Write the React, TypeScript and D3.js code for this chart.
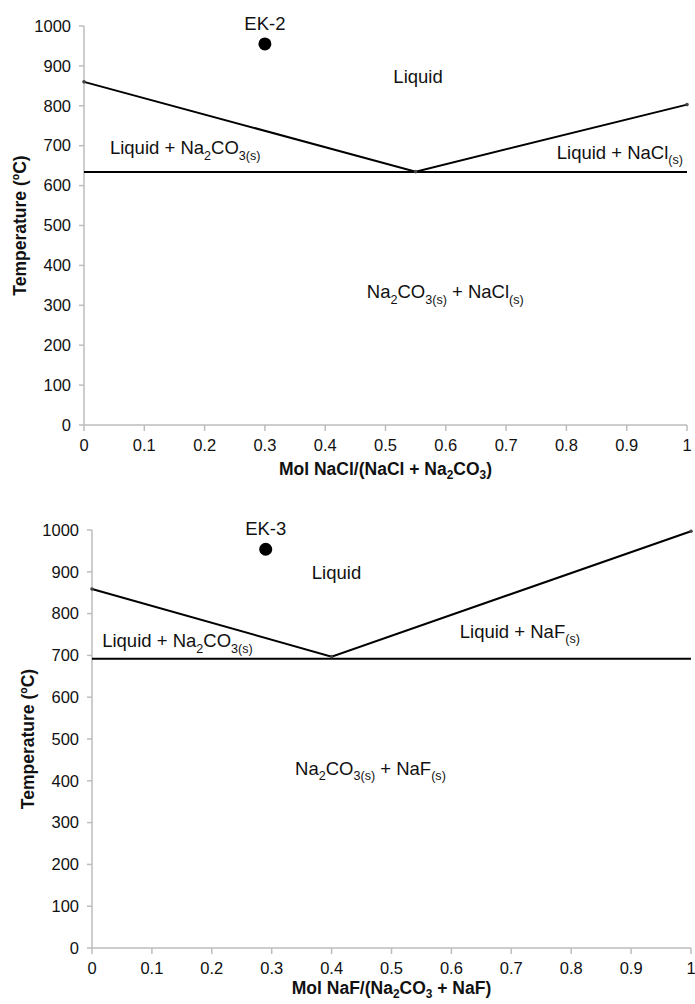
import { useEffect, useRef } from "react";
import * as d3 from "d3";

// shared axis ticks
const xTicks = [0, 0.1, 0.2, 0.3, 0.4, 0.5, 0.6, 0.7, 0.8, 0.9, 1];
const tempTicks = [0, 100, 200, 300, 400, 500, 600, 700, 800, 900, 1000];

// Na2CO3 - NaCl system
const naclLiquidusX = [0, 0.55, 1];
const naclLiquidusT = [860, 635, 803];
const naclEutecticT = 634;
const naclSample = { name: "EK-2", x: 0.3, t: 955 };
const naclRegions = [
  "Liquid",
  "Liquid + Na_{2}CO_{3(s)}",
  "Liquid + NaCl_{(s)}",
  "Na_{2}CO_{3(s)} + NaCl_{(s)}",
];
const naclXTitle = "Mol NaCl/(NaCl + Na_{2}CO_{3})";

// Na2CO3 - NaF system
const nafLiquidusX = [0, 0.4, 1];
const nafLiquidusT = [859, 697, 997];
const nafEutecticT = 692;
const nafSample = { name: "EK-3", x: 0.29, t: 954 };
const nafRegions = [
  "Liquid",
  "Liquid + Na_{2}CO_{3(s)}",
  "Liquid + NaF_{(s)}",
  "Na_{2}CO_{3(s)} + NaF_{(s)}",
];
const nafXTitle = "Mol NaF/(Na_{2}CO_{3} + NaF)";

const yTitle = "Temperature (ºC)";
const FONT = "'Liberation Sans', Arial, Helvetica, sans-serif";

// where each region label sits (data coords: x fraction, temperature at baseline)
const naclRegionPos = [
  { x: 0.554, t: 857, anchor: "middle" },
  { x: 0.043, t: 679, anchor: "start" },
  { x: 0.784, t: 667, anchor: "start" },
  { x: 0.469, t: 318, anchor: "start" },
];
const nafRegionPos = [
  { x: 0.367, t: 883, anchor: "start" },
  { x: 0.017, t: 720, anchor: "start" },
  { x: 0.614, t: 742, anchor: "start" },
  { x: 0.339, t: 414, anchor: "start" },
];

// tiny markup parser: "Na_{2}CO_{3}" -> tspans with subscripts
function richText(sel: any, label: string, size: number, shift = 0.3) {
  const parts = label.split(/(_\{[^}]*\})/).filter(Boolean);
  let shifted = false;
  parts.forEach((p) => {
    if (p.startsWith("_{")) {
      sel
        .append("tspan")
        .attr("font-size", size * 0.68)
        .attr("dy", shifted ? 0 : size * shift)
        .text(p.slice(2, -1));
      shifted = true;
    } else {
      sel
        .append("tspan")
        .attr("dy", shifted ? -size * shift : 0)
        .text(p);
      shifted = false;
    }
  });
}

function drawPhaseChart(g: any, cfg: any) {
  const { box, lx, lt, eut, sample, regions, regionPos, xTitle, titleGap } = cfg;
  const x = d3.scaleLinear().domain([0, 1]).range([box.left, box.right]);
  const y = d3.scaleLinear().domain([0, 1000]).range([box.bottom, box.top]);

  // axes
  const axisColor = "#bdbdbd";
  g.append("line")
    .attr("x1", box.left).attr("x2", box.left)
    .attr("y1", y(1000)).attr("y2", y(0))
    .attr("stroke", axisColor).attr("stroke-width", 1.5);
  g.append("line")
    .attr("x1", x(0)).attr("x2", x(1))
    .attr("y1", box.bottom).attr("y2", box.bottom)
    .attr("stroke", axisColor).attr("stroke-width", 1.5);

  const yt = g.append("g");
  tempTicks.forEach((t) => {
    yt.append("line")
      .attr("x1", box.left - 5).attr("x2", box.left)
      .attr("y1", y(t)).attr("y2", y(t))
      .attr("stroke", axisColor).attr("stroke-width", 1.5);
    yt.append("text")
      .attr("x", box.left - 13).attr("y", y(t))
      .attr("text-anchor", "end").attr("dy", "0.35em")
      .attr("font-size", 16.5).attr("font-family", FONT).attr("fill", "#111")
      .text(d3.format("d")(t));
  });

  const xt = g.append("g");
  xTicks.forEach((v) => {
    xt.append("line")
      .attr("x1", x(v)).attr("x2", x(v))
      .attr("y1", box.bottom).attr("y2", box.bottom + 6)
      .attr("stroke", axisColor).attr("stroke-width", 1.5);
    xt.append("text")
      .attr("x", x(v)).attr("y", box.bottom + 26)
      .attr("text-anchor", "middle")
      .attr("font-size", 16.5).attr("font-family", FONT).attr("fill", "#111")
      .text(String(v));
  });

  // axis titles
  const xtt = g.append("text")
    .attr("x", (box.left + box.right) / 2).attr("y", box.bottom + titleGap)
    .attr("text-anchor", "middle").attr("font-weight", "bold")
    .attr("font-size", 17.5).attr("font-family", FONT).attr("fill", "#111");
  richText(xtt, xTitle, 17.5, 0.22);

  g.append("text")
    .attr("transform", `translate(${box.left - 58},${(box.top + box.bottom) / 2}) rotate(-90)`)
    .attr("text-anchor", "middle").attr("font-weight", "bold")
    .attr("font-size", 17.5).attr("font-family", FONT).attr("fill", "#111")
    .text(yTitle);

  // eutectic line
  g.append("line")
    .attr("x1", x(0)).attr("x2", x(1))
    .attr("y1", y(eut)).attr("y2", y(eut))
    .attr("stroke", "#000").attr("stroke-width", 2);

  // liquidus
  const pts = lx.map((v: number, i: number) => [v, lt[i]]);
  const line = d3.line<number[]>().x((d) => x(d[0])).y((d) => y(d[1]));
  g.append("path")
    .attr("d", line(pts))
    .attr("fill", "none").attr("stroke", "#000").attr("stroke-width", 2);
  g.selectAll(null).data(pts).enter().append("circle")
    .attr("cx", (d: number[]) => x(d[0])).attr("cy", (d: number[]) => y(d[1]))
    .attr("r", 1.8).attr("fill", "#444");

  // sample point
  g.append("circle")
    .attr("cx", x(sample.x)).attr("cy", y(sample.t))
    .attr("r", 6.5).attr("fill", "#000");
  g.append("text")
    .attr("x", x(sample.x)).attr("y", y(sample.t) - 14)
    .attr("text-anchor", "middle")
    .attr("font-size", 18.5).attr("font-family", FONT).attr("fill", "#111")
    .text(sample.name);

  // region labels
  regions.forEach((lab: string, i: number) => {
    const p = regionPos[i];
    const t = g.append("text")
      .attr("x", x(p.x)).attr("y", y(p.t))
      .attr("text-anchor", p.anchor)
      .attr("font-size", 18.5).attr("font-family", FONT).attr("fill", "#111");
    richText(t, lab, 18.5);
  });
}

export default function App() {
  const ref = useRef<SVGSVGElement>(null);

  useEffect(() => {
    const svg = d3.select(ref.current);
    svg.selectAll("*").remove();

    drawPhaseChart(svg.append("g"), {
      box: { left: 84, right: 687, top: 26, bottom: 425 },
      lx: naclLiquidusX,
      lt: naclLiquidusT,
      eut: naclEutecticT,
      sample: naclSample,
      regions: naclRegions,
      regionPos: naclRegionPos,
      xTitle: naclXTitle,
      titleGap: 50,
    });

    drawPhaseChart(svg.append("g"), {
      box: { left: 92, right: 691, top: 530, bottom: 948 },
      lx: nafLiquidusX,
      lt: nafLiquidusT,
      eut: nafEutecticT,
      sample: nafSample,
      regions: nafRegions,
      regionPos: nafRegionPos,
      xTitle: nafXTitle,
      titleGap: 46,
    });
  }, []);

  return (
    <svg
      ref={ref}
      width={695}
      height={1004}
      style={{ position: "absolute", left: 0, top: 0, background: "#fff" }}
    />
  );
}
